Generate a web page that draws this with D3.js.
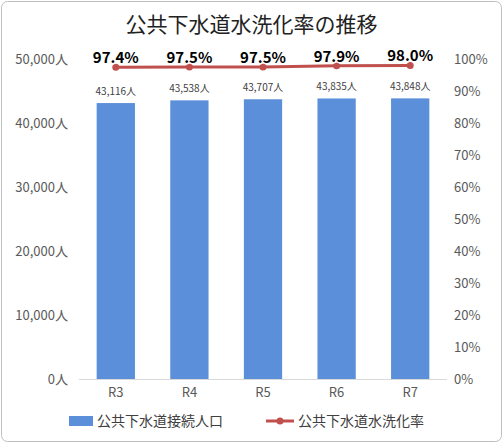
<!DOCTYPE html><html><head><meta charset="utf-8"><script src="https://d3js.org/d3.v7.min.js"></script>
<style>body{margin:0;background:#fff}text{font-family:"Noto Sans CJK JP","Noto Sans",sans-serif}</style></head><body>
<script>
const categories=["R3","R4","R5","R6","R7"];
const population=[43116,43538,43707,43835,43848];
const rate=[97.4,97.5,97.5,97.9,98.0];
const leftTicks=[0,10000,20000,30000,40000,50000];
const rightTicks=[0,10,20,30,40,50,60,70,80,90,100];
const W=503,H=443;
const svg=d3.select("body").append("svg").attr("width",W).attr("height",H);
svg.append("rect").attr("x",1.5).attr("y",1.5).attr("width",W-3).attr("height",H-3).attr("rx",6).attr("fill","#fff").attr("stroke","#bfbfbf");
svg.append("text").attr("x",W/2).attr("y",32).attr("text-anchor","middle").attr("font-size",21).attr("fill","#222").text("公共下水道水洗化率の推移");
const x=d3.scaleBand().domain(categories).range([79,447]).paddingInner(0.48).paddingOuter(0.24);
const y=d3.scaleLinear().domain([0,50000]).range([379,59]);
const y2=d3.scaleLinear().domain([0,100]).range([379,59]);
const gl=svg.append("g").attr("transform","translate(75,0)").call(d3.axisLeft(y).tickValues(leftTicks).tickSize(0).tickFormat(d=>d3.format(",")(d)+"人"));
const gr=svg.append("g").attr("transform","translate(447,0)").call(d3.axisRight(y2).tickValues(rightTicks).tickSize(0).tickFormat(d=>d+"%"));
[gl,gr].forEach(g=>{g.select(".domain").remove();g.selectAll("text").attr("font-size",13).attr("fill","#595959").attr("font-family","Liberation Sans, sans-serif");});
gl.selectAll("text").attr("dx",-4);gr.selectAll("text").attr("dx",4);
svg.append("line").attr("x1",79).attr("x2",447).attr("y1",379.5).attr("y2",379.5).attr("stroke","#d9d9d9");
svg.selectAll(".bar").data(population).join("rect").attr("x",(d,i)=>x(categories[i])).attr("width",x.bandwidth()).attr("y",d=>y(d)).attr("height",d=>379-y(d)).attr("fill","#5b8fd9");
svg.selectAll(".bl").data(population).join("text").attr("x",(d,i)=>x(categories[i])+x.bandwidth()/2).attr("y",d=>y(d)-8).attr("text-anchor","middle").attr("font-size",10).attr("fill","#404040").text(d=>d3.format(",")(d)+"人");
const cx=(d,i)=>x(categories[i])+x.bandwidth()/2;
svg.append("path").datum(rate).attr("d",d3.line().x(cx).y(d=>y2(d))).attr("fill","none").attr("stroke","#c0504d").attr("stroke-width",3);
svg.selectAll(".pt").data(rate).join("circle").attr("cx",cx).attr("cy",d=>y2(d)).attr("r",3.5).attr("fill","#c0504d");
svg.selectAll(".rl").data(rate).join("text").attr("x",cx).attr("y",d=>y2(d)-4).attr("text-anchor","middle").attr("font-size",15).attr("font-weight","bold").attr("font-family","Liberation Sans, sans-serif").attr("fill","#000").attr("stroke","#fff").attr("stroke-width",3).attr("paint-order","stroke").text(d=>d.toFixed(1)+"%");
svg.selectAll(".cl").data(categories).join("text").attr("x",d=>x(d)+x.bandwidth()/2).attr("y",397).attr("text-anchor","middle").attr("font-size",13).attr("fill","#595959").attr("font-family","Liberation Sans, sans-serif").text(d=>d);
const lg=svg.append("g");
lg.append("rect").attr("x",69).attr("y",416).attr("width",24).attr("height",10).attr("fill","#5b8fd9");
lg.append("text").attr("x",97).attr("y",426).attr("font-size",14).attr("fill","#404040").text("公共下水道接続人口");
lg.append("line").attr("x1",266).attr("x2",294).attr("y1",421).attr("y2",421).attr("stroke","#c0504d").attr("stroke-width",3);
lg.append("circle").attr("cx",280).attr("cy",421).attr("r",3.5).attr("fill","#c0504d");
lg.append("text").attr("x",298).attr("y",426).attr("font-size",14).attr("fill","#404040").text("公共下水道水洗化率");
</script></body></html>
